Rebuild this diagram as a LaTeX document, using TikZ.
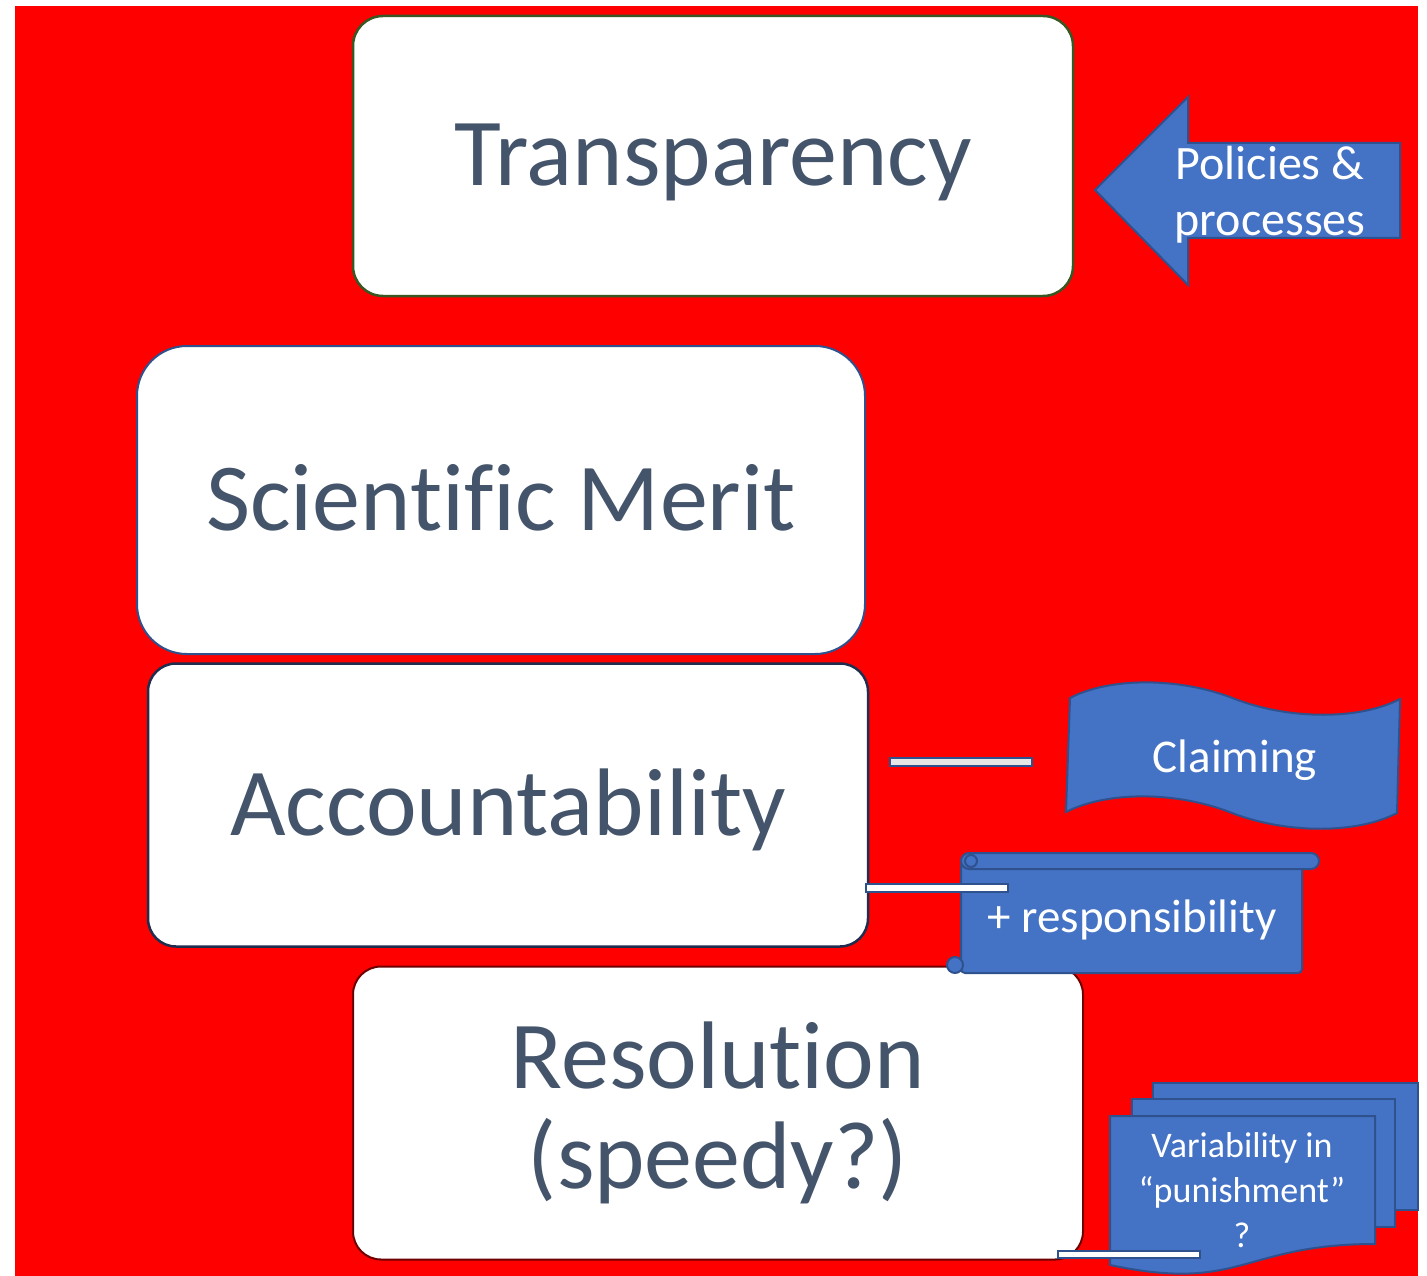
\documentclass[tikz,border=0pt]{standalone}
\usepackage{fontspec}
\setmainfont{Carlito}[Ligatures={NoCommon,NoRequired,NoContextual,NoRare}]
\definecolor{slidered}{RGB}{255,0,0}
\definecolor{textgray}{RGB}{68,84,106}
\definecolor{fillblue}{RGB}{68,114,196}
\definecolor{edgeblue}{RGB}{47,82,143}
\definecolor{edgegreen}{RGB}{56,87,35}
\definecolor{edgenavy}{RGB}{31,45,78}
\definecolor{edgered}{RGB}{110,0,0}
\definecolor{barfill}{RGB}{231,230,230}

\begin{document}
\begin{tikzpicture}[
    x=1pt, y=-1pt,
    bigbox/.style={draw, fill=white, line width=2.5pt, text=textgray, inner sep=0pt,
        font=\fontsize{96}{100}\selectfont},
    capline/.style={text height=60pt, text depth=0pt},
    blueshape/.style={draw=edgeblue, fill=fillblue, line width=2pt},
    whitetext/.style={text=white, inner sep=0pt, align=center},
    bar/.style={draw=edgeblue, line width=2pt, fill=white},
]
    \useasboundingbox (0,0) rectangle (1427,1276);
    \fill[slidered] (15,6) rectangle (1418,1276);

    %boxes
    \node[bigbox, capline, draw=edgegreen, rounded corners=30pt,
          minimum width=720pt, minimum height=280pt] (transp) at (713,156) {Transparency};
    \node[bigbox, capline, draw=edgeblue, line width=2pt, rounded corners=50pt,
          minimum width=728pt, minimum height=308pt] (merit) at (501,500) {Scientific Merit};
    \node[bigbox, capline, draw=edgenavy, rounded corners=28pt,
          minimum width=720pt, minimum height=283pt] (account) at (508,805) {Accountability};
    \node[bigbox, draw=edgered, line width=2pt, rounded corners=28pt, align=center,
          minimum width=730pt, minimum height=293pt] (resol) at (718,1113) {Resolution\\(speedy?)};

    %arrow
    \draw[blueshape] (1095,190) -- (1188,97) -- (1188,143) -- (1400,143)
        -- (1400,238) -- (1188,238) -- (1188,285) -- cycle;
    \node[whitetext, font=\fontsize{48}{56}\selectfont] (policies) at (1270,195) {Policies \&\\processes};

    %wave
    \draw[blueshape] (1070,698) .. controls (1110,677) and (1180,677) .. (1235,699)
        .. controls (1290,720) and (1360,720) .. (1400,699) -- (1397,813)
        .. controls (1357,834) and (1287,834) .. (1232,813)
        .. controls (1177,791) and (1107,791) .. (1066,812) -- cycle;
    \node[whitetext, font=\fontsize{47}{56}\selectfont, anchor=base] (claiming) at (1235,772) {Claiming};

    %scroll
    \draw[blueshape, rounded corners=4pt] (961,861) rectangle (1302,973);
    \draw[blueshape, rounded corners=8pt] (961,853) rectangle (1319,869);
    \draw[blueshape] (971,861) circle (6);
    \draw[blueshape] (955,965) circle (8);
    \node[whitetext, font=\fontsize{47}{56}\selectfont, anchor=base] (respons) at (1132,932) {+ responsibility};

    %documents
    \draw[blueshape] (1153,1083) rectangle (1418,1210);
    \draw[blueshape] (1132,1099) rectangle (1395,1227);
    \draw[blueshape] (1110,1116) -- (1375,1116) -- (1375,1244)
        .. controls (1242,1244) and (1242,1293) .. (1110,1265) -- cycle;
    \node[whitetext, font=\fontsize{36}{45}\selectfont] (variab) at (1242,1190)
        {Variability in\\``punishment''\\?};

    %bars
    \draw[bar, fill=barfill] (890,758) rectangle (1032,766);
    \draw[bar] (866,884) rectangle (1008,892);
    \draw[bar] (1058,1251) rectangle (1200,1258);
\end{tikzpicture}
\end{document}
